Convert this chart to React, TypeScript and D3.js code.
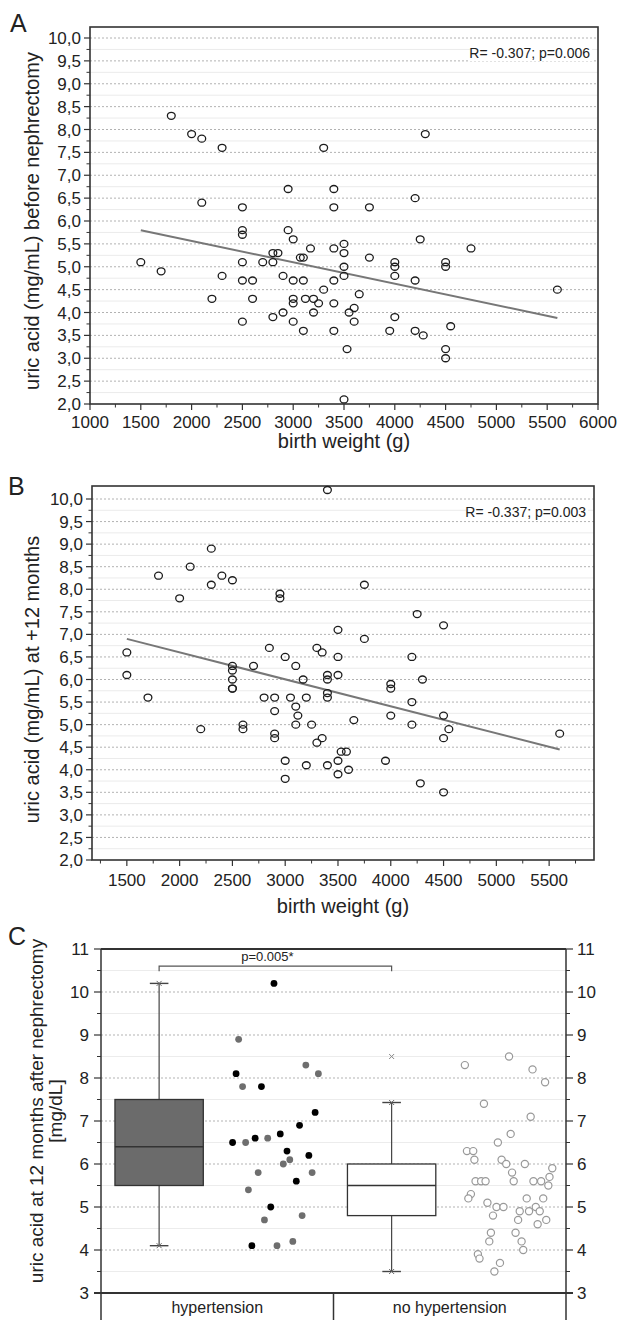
import * as d3 from "d3";

const FONT = "'Liberation Sans', Arial, Helvetica, sans-serif";
const INK = "#222";

// A: uric acid before nephrectomy (mg/mL) vs birth weight (g), [weight, uric]
const pointsA: [number, number][] = [
  [1800, 8.3], [2000, 7.9], [2100, 7.8], [2300, 7.6], [3300, 7.6], [4300, 7.9],
  [2950, 6.7], [3400, 6.7], [4200, 6.5], [2100, 6.4], [2500, 6.3], [3400, 6.3], [3750, 6.3],
  [2500, 5.8], [2500, 5.7], [2950, 5.8], [3000, 5.6], [1500, 5.1], [1700, 4.9], [2300, 4.8], [2200, 4.3],
  [2500, 5.1], [2500, 4.7], [2500, 3.8], [2600, 4.7], [2600, 4.3], [2700, 5.1], [2800, 5.3], [2850, 5.3],
  [2800, 5.1], [2800, 3.9], [2900, 4.8], [2900, 4.0], [3000, 4.7], [3000, 4.3], [3000, 4.2], [3000, 3.8],
  [3070, 5.2], [3100, 5.2], [3100, 4.7], [3120, 4.3], [3100, 3.6], [3170, 5.4], [3200, 4.3], [3250, 4.2],
  [3200, 4.0], [3300, 4.5], [3400, 5.4], [3400, 4.7], [3400, 4.2], [3400, 3.6], [3500, 5.5], [3500, 5.3],
  [3500, 5.0], [3500, 4.8], [3500, 2.1], [3530, 3.2], [3550, 4.0], [3600, 4.1], [3600, 3.8], [3650, 4.4],
  [3750, 5.2], [3950, 3.6], [4000, 5.1], [4000, 5.0], [4000, 4.8], [4000, 3.9], [4200, 4.7], [4200, 3.6],
  [4250, 5.6], [4280, 3.5], [4500, 5.1], [4500, 5.0], [4500, 3.2], [4500, 3.0], [4550, 3.7], [4750, 5.4],
  [5600, 4.5],
];
const fitA: [number, number][] = [[1500, 5.8], [5600, 3.88]];
const statA = "R= -0.307; p=0.006";

// B: uric acid at +12 months vs birth weight
const pointsB: [number, number][] = [
  [3400, 10.2], [2300, 8.9], [1800, 8.3], [2100, 8.5], [2300, 8.1], [2400, 8.3], [2500, 8.2], [2000, 7.8],
  [2950, 7.9], [2950, 7.8], [3750, 8.1], [4250, 7.45], [4500, 7.2], [3500, 7.1], [3750, 6.9],
  [1500, 6.6], [1500, 6.1], [2500, 6.3], [2500, 6.2], [2500, 6.0], [2700, 6.3], [2850, 6.7], [3000, 6.5],
  [3100, 6.3], [3170, 6.0], [3300, 6.7], [3350, 6.6], [3400, 6.1], [3400, 6.0], [3500, 6.5], [3500, 6.1],
  [4000, 5.9], [4000, 5.8], [4200, 6.5], [4300, 6.0], [2500, 5.8], [2500, 5.8], [1700, 5.6], [2200, 4.9],
  [2600, 5.0], [2600, 4.9], [2800, 5.6], [2900, 5.6], [2900, 5.3], [2900, 4.8], [2900, 4.7], [3050, 5.6],
  [3100, 5.4], [3120, 5.2], [3100, 5.0], [3200, 5.6], [3250, 5.0], [3300, 4.6], [3350, 4.7], [3000, 4.2],
  [3000, 3.8], [3200, 4.1], [3400, 5.7], [3400, 5.6], [3400, 4.1], [3500, 4.2], [3500, 3.9], [3530, 4.4],
  [3580, 4.4], [3600, 4.0], [3650, 5.1], [3950, 4.2], [4000, 5.2], [4200, 5.5], [4200, 5.0], [4280, 3.7],
  [4500, 5.2], [4500, 4.7], [4550, 4.9], [4500, 3.5], [5600, 4.8],
];
const fitB: [number, number][] = [[1500, 6.9], [5600, 4.45]];
const statB = "R= -0.337; p=0.003";

// C: box plots (hypertension, no hypertension)
const groups = ["hypertension", "no hypertension"];
const boxLow = [4.1, 3.5];
const boxQ1 = [5.5, 4.8];
const boxMedian = [6.4, 5.5];
const boxQ3 = [7.5, 6.0];
const boxHigh = [10.2, 7.43];
const outliersNoHyper = [8.5];
const pText = "p=0.005*";

// jittered raw values, [position on group axis, uric acid]
const hyperDark: [number, number][] = [
  [0.744, 10.2], [0.581, 8.1], [0.69, 7.8], [0.566, 6.5], [0.663, 6.6], [0.771, 6.7], [0.854, 6.9],
  [0.921, 7.2], [0.8, 6.3], [0.894, 6.2], [0.84, 5.6], [0.73, 5.0], [0.649, 4.1],
];
const hyperGray: [number, number][] = [
  [0.592, 8.9], [0.609, 7.8], [0.881, 8.3], [0.935, 8.1], [0.622, 6.5], [0.717, 6.6], [0.784, 6.0],
  [0.812, 6.1], [0.676, 5.8], [0.908, 5.8], [0.634, 5.4], [0.703, 4.7], [0.865, 4.8], [0.757, 4.1], [0.825, 4.2],
];
const noHyper: [number, number][] = [
  [1.565, 8.3], [1.755, 8.5], [1.856, 8.2], [1.91, 7.9], [1.647, 7.4], [1.848, 7.1], [1.762, 6.7],
  [1.707, 6.5], [1.574, 6.3], [1.601, 6.3], [1.606, 6.1], [1.723, 6.1], [1.743, 6.0], [1.823, 6.0],
  [1.941, 5.9], [1.768, 5.8], [1.929, 5.7], [1.611, 5.6], [1.635, 5.6], [1.654, 5.6], [1.775, 5.6],
  [1.86, 5.6], [1.893, 5.6], [1.924, 5.5], [1.591, 5.3], [1.58, 5.2], [1.831, 5.2], [1.902, 5.2],
  [1.662, 5.1], [1.701, 5.0], [1.731, 5.0], [1.87, 5.0], [1.686, 4.8], [1.801, 4.9], [1.841, 4.9],
  [1.887, 4.9], [1.794, 4.7], [1.915, 4.7], [1.878, 4.6], [1.677, 4.4], [1.783, 4.4], [1.67, 4.2],
  [1.809, 4.2], [1.816, 4.0], [1.621, 3.9], [1.628, 3.8], [1.716, 3.7], [1.692, 3.5],
];

const commaFmt = (v: number) => d3.format(".1f")(v).replace(".", ",");

function ScatterPanel({ cfg }: { cfg: any }) {
  const x = d3.scaleLinear().domain(cfg.xDomain).range([cfg.left, cfg.right]);
  const y = d3.scaleLinear().domain([2, 10]).range([cfg.bottom, cfg.y10]);
  const yMajor = d3.range(2, 10.001, 0.5);
  const yMinor = d3.range(2.25, 10, 0.5);
  const line = d3.line<[number, number]>().x((d) => x(d[0])).y((d) => y(d[1]));
  const midY = (cfg.bottom + cfg.y10) / 2;

  return (
    <g fontFamily={FONT} fill={INK}>
      <text x={cfg.letterX} y={cfg.letterY} fontSize={25}>{cfg.letter}</text>
      {/* grid */}
      {yMinor.map((v) => (
        <line key={"m" + v} x1={cfg.left} x2={cfg.right} y1={y(v)} y2={y(v)} stroke="#ebebeb" strokeWidth={1} />
      ))}
      {yMajor.slice(1).map((v) => (
        <line key={"g" + v} x1={cfg.left} x2={cfg.right} y1={y(v)} y2={y(v)} stroke="#a9a9a9" strokeWidth={0.9} strokeDasharray="2,2" />
      ))}
      {/* y ticks */}
      {yMajor.map((v) => (
        <g key={"yt" + v}>
          <line x1={cfg.left - 6} x2={cfg.left} y1={y(v)} y2={y(v)} stroke="#333" strokeWidth={1.2} />
          <text x={cfg.left - 9} y={y(v)} dy="0.36em" textAnchor="end" fontSize={17}>{commaFmt(v)}</text>
        </g>
      ))}
      {yMinor.map((v) => (
        <line key={"ym" + v} x1={cfg.left - 3.5} x2={cfg.left} y1={y(v)} y2={y(v)} stroke="#333" strokeWidth={1} />
      ))}
      {/* x ticks */}
      {cfg.xMajor.map((v: number) => (
        <g key={"xt" + v}>
          <line x1={x(v)} x2={x(v)} y1={cfg.bottom} y2={cfg.bottom + 6} stroke="#333" strokeWidth={1.2} />
          <text x={x(v)} y={cfg.tickY} textAnchor="middle" fontSize={17}>{v}</text>
        </g>
      ))}
      {cfg.xMinor.map((v: number) => (
        <line key={"xm" + v} x1={x(v)} x2={x(v)} y1={cfg.bottom} y2={cfg.bottom + 3.5} stroke="#333" strokeWidth={1} />
      ))}
      {/* frame */}
      <rect x={cfg.left} y={cfg.top} width={cfg.right - cfg.left} height={cfg.bottom - cfg.top} fill="none" stroke="#333" strokeWidth={1.6} />
      {/* fit line */}
      <path d={line(cfg.fit) || ""} fill="none" stroke="#777" strokeWidth={2} />
      {/* points */}
      {cfg.points.map((d: [number, number], i: number) => (
        <ellipse key={"p" + i} cx={x(d[0])} cy={y(d[1])} rx={3.9} ry={3.5} fill="none" stroke="#1c1c1c" strokeWidth={1.3} />
      ))}
      {/* stat */}
      <rect x={cfg.right - 128} y={cfg.statY - 12} width={122} height={15} fill="#fff" />
      <text x={cfg.right - 8} y={cfg.statY} textAnchor="end" fontSize={14}>{cfg.stat}</text>
      {/* titles */}
      <text x={(cfg.left + cfg.right) / 2} y={cfg.titleY} textAnchor="middle" fontSize={20}>birth weight (g)</text>
      <text transform={`translate(${cfg.yTitleX},${midY}) rotate(-90)`} textAnchor="middle" fontSize={20}>{cfg.yTitle}</text>
    </g>
  );
}

function BoxPanel() {
  const left = 101, right = 566, top = 949, bottom = 1293;
  const x = d3.scaleLinear().domain([0, 2]).range([left, right]);
  const y = d3.scaleLinear().domain([3, 11]).range([bottom, top]);
  const boxPos = [0.25, 1.25];
  const halfW = 0.19;
  const capW = 0.04;
  const major = d3.range(3, 11.001, 1);
  const minor = d3.range(3.5, 11, 1);
  const cross = (cx: number, cy: number, s: number, key: string, color: string) => (
    <path key={key} d={`M${cx - s},${cy - s}L${cx + s},${cy + s}M${cx - s},${cy + s}L${cx + s},${cy - s}`} stroke={color} strokeWidth={1} />
  );

  return (
    <g fontFamily={FONT} fill={INK}>
      <text x={8} y={945} fontSize={25}>C</text>
      {/* grid */}
      {minor.map((v) => (
        <line key={"m" + v} x1={left} x2={right} y1={y(v)} y2={y(v)} stroke="#ececec" />
      ))}
      {major.slice(1, -1).map((v) => (
        <line key={"g" + v} x1={left} x2={right} y1={y(v)} y2={y(v)} stroke="#aaa" strokeWidth={0.9} strokeDasharray="2,2" />
      ))}
      {/* ticks both sides */}
      {major.map((v) => (
        <g key={"t" + v}>
          <line x1={left - 7} x2={left} y1={y(v)} y2={y(v)} stroke="#333" strokeWidth={1.2} />
          <line x1={right} x2={right + 7} y1={y(v)} y2={y(v)} stroke="#333" strokeWidth={1.2} />
          <text x={left - 12} y={y(v)} dy="0.36em" textAnchor="end" fontSize={17}>{v}</text>
          <text x={right + 11} y={y(v)} dy="0.36em" textAnchor="start" fontSize={17}>{v}</text>
        </g>
      ))}
      {minor.map((v) => (
        <g key={"n" + v}>
          <line x1={left - 4} x2={left} y1={y(v)} y2={y(v)} stroke="#333" />
          <line x1={right} x2={right + 4} y1={y(v)} y2={y(v)} stroke="#333" />
        </g>
      ))}
      {/* axes frame */}
      <line x1={left} x2={right} y1={top} y2={top} stroke="#333" strokeWidth={1.8} />
      <line x1={left - 7} x2={right + 7} y1={bottom} y2={bottom} stroke="#333" strokeWidth={1.8} />
      <line x1={left} x2={left} y1={top} y2={1320} stroke="#333" strokeWidth={1.5} />
      <line x1={right} x2={right} y1={top} y2={1320} stroke="#333" strokeWidth={1.5} />
      <line x1={x(1)} x2={x(1)} y1={bottom} y2={1320} stroke="#333" strokeWidth={1.5} />
      {groups.map((g, i) => (
        <text key={g} x={x(i + 0.5)} y={1313} textAnchor="middle" fontSize={16}>{g}</text>
      ))}
      {/* boxes */}
      {boxPos.map((p, i) => (
        <g key={"b" + i}>
          <line x1={x(p)} x2={x(p)} y1={y(boxHigh[i])} y2={y(boxLow[i])} stroke="#444" strokeWidth={1.2} />
          <line x1={x(p - capW)} x2={x(p + capW)} y1={y(boxHigh[i])} y2={y(boxHigh[i])} stroke="#444" strokeWidth={1.4} />
          <line x1={x(p - capW)} x2={x(p + capW)} y1={y(boxLow[i])} y2={y(boxLow[i])} stroke="#444" strokeWidth={1.4} />
          {cross(x(p), y(boxHigh[i]), 2.5, "ch" + i, "#666")}
          {cross(x(p), y(boxLow[i]), 2.5, "cl" + i, "#666")}
          <rect x={x(p - halfW)} y={y(boxQ3[i])} width={x(p + halfW) - x(p - halfW)} height={y(boxQ1[i]) - y(boxQ3[i])}
            fill={i === 0 ? "#6b6b6b" : "#fff"} stroke="#333" strokeWidth={1.3} />
          <line x1={x(p - halfW)} x2={x(p + halfW)} y1={y(boxMedian[i])} y2={y(boxMedian[i])} stroke="#333" strokeWidth={1.4} />
        </g>
      ))}
      {outliersNoHyper.map((v, i) => cross(x(boxPos[1]), y(v), 2.5, "o" + i, "#888"))}
      {/* significance bracket */}
      <path d={`M${x(boxPos[0])},${y(10.48)}V${y(10.6)}H${x(boxPos[1])}V${y(10.48)}`} fill="none" stroke="#555" strokeWidth={1.2} />
      <text x={x((boxPos[0] + boxPos[1]) / 2) - 8} y={y(10.6) - 5} textAnchor="middle" fontSize={13}>{pText}</text>
      {/* raw values */}
      {hyperDark.map((d, i) => (
        <circle key={"hd" + i} cx={x(d[0])} cy={y(d[1])} r={3.4} fill="#000" />
      ))}
      {hyperGray.map((d, i) => (
        <circle key={"hg" + i} cx={x(d[0])} cy={y(d[1])} r={3.4} fill="#6e6e6e" />
      ))}
      {noHyper.map((d, i) => (
        <circle key={"nh" + i} cx={x(d[0])} cy={y(d[1])} r={3.6} fill="#fff" stroke="#999" strokeWidth={1.2} />
      ))}
      {/* y title */}
      <g transform={`translate(0,${(top + bottom) / 2 - 10})`} fontSize={19}>
        <text transform="translate(43,0) rotate(-90)" textAnchor="middle">uric acid at 12 months after nephrectomy</text>
        <text transform="translate(62,0) rotate(-90)" textAnchor="middle">[mg/dL]</text>
      </g>
    </g>
  );
}

const panelA = {
  letter: "A", letterX: 10, letterY: 32,
  left: 90, right: 598, top: 27, y10: 38, bottom: 404,
  xDomain: [1000, 6000], xMajor: d3.range(1000, 6001, 500), xMinor: d3.range(1250, 6000, 500),
  points: pointsA, fit: fitA, stat: statA, statY: 58,
  yTitle: "uric acid (mg/mL) before nephrectomy", yTitleX: 39,
  tickY: 428, titleY: 448,
};

const panelB = {
  letter: "B", letterX: 8, letterY: 495,
  left: 92, right: 594, top: 486, y10: 499, bottom: 860,
  xDomain: [1170, 5925], xMajor: d3.range(1500, 5501, 500), xMinor: d3.range(1250, 5800, 500),
  points: pointsB, fit: fitB, stat: statB, statY: 517,
  yTitle: "uric acid (mg/mL) at +12 months", yTitleX: 39,
  tickY: 886, titleY: 913,
};

export default function App() {
  return (
    <svg width={620} height={1320} style={{ position: "absolute", left: 0, top: 0, background: "#fff" }}>
      <rect width={620} height={1320} fill="#fff" />
      <ScatterPanel cfg={panelA} />
      <ScatterPanel cfg={panelB} />
      <BoxPanel />
    </svg>
  );
}
